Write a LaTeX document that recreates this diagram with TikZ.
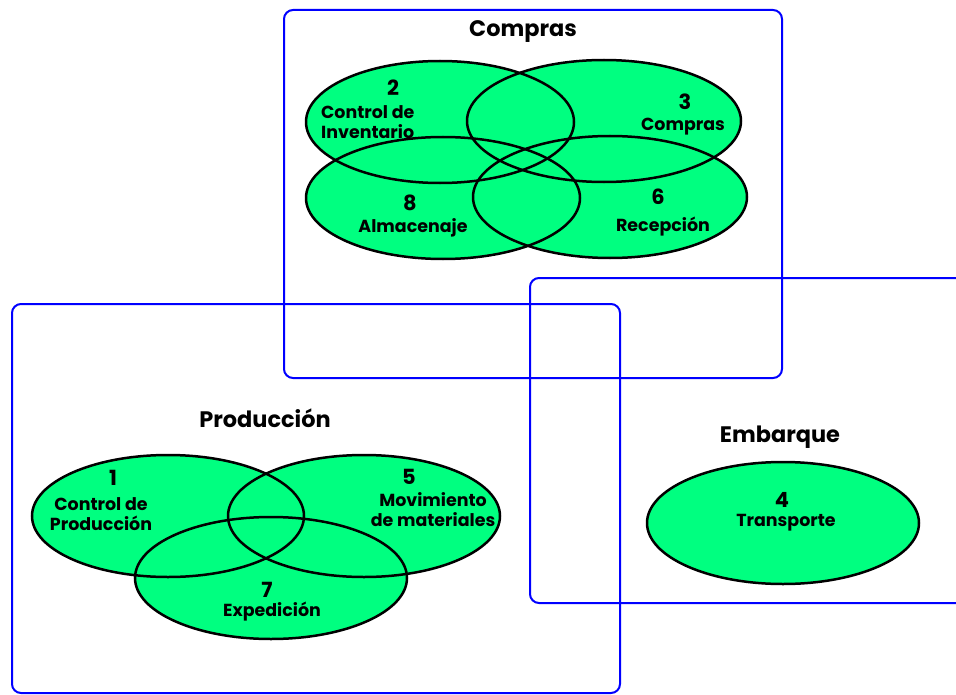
\documentclass[tikz,border=0pt]{standalone}
\usepackage{fontspec}
\setmainfont{Poppins}
\definecolor{verde}{RGB}{0,255,128}
\definecolor{azul}{RGB}{0,0,255}
\begin{document}
\begin{tikzpicture}[x=1bp,y=-1bp,
    grupo/.style={draw=azul,line width=2bp,rounded corners=9bp},
    titulo/.style={font=\fontsize{22.5}{24}\selectfont\bfseries},
    num/.style={font=\fontsize{21}{22}\selectfont\bfseries,inner sep=0pt},
    txt/.style={font=\fontsize{17.5}{20}\selectfont\bfseries,inner sep=0pt,align=center}]
                \clip (0,0) rectangle (956,695);
                % recuadros
                \draw[grupo] (284,10) rectangle (782,378);
                \draw[grupo] (12,304) rectangle (620,693);
                \draw[grupo] (530,278) rectangle (990,603);
                % areas
                \foreach \c/\rx in {{(440,122)}/134,{(604,121)}/137,{(443,198)}/137,{(610,197)}/137,
                    {(168,516)}/136,{(364,516)}/136,{(271,578)}/136,{(783,523)}/136}
                    \fill[verde] \c ellipse [x radius=\rx, y radius=61];
                \foreach \c/\rx in {{(440,122)}/134,{(604,121)}/137,{(443,198)}/137,{(610,197)}/137,
                    {(168,516)}/136,{(364,516)}/136,{(271,578)}/136,{(783,523)}/136}
                    \draw[line width=2.5bp] \c ellipse [x radius=\rx, y radius=61];
                % titulos
                \node[titulo] (tCompras) at (523,32) {Compras};
                \node[titulo] (tProduccion) at (265,418) {Producción};
                \node[titulo] (tEmbarque) at (780,437) {Embarque};
                % compras
                \node[num] (n2) at (393,88) {2};
                \node[txt,align=left,anchor=west] (l2) at (321,122) {Control de\\Inventario};
                \node[num] (n3) at (685,102) {3};
                \node[txt] (l3) at (683,127) {Compras};
                \node[num] (n8) at (410,203) {8};
                \node[txt] (l8) at (413,228) {Almacenaje};
                \node[num] (n6) at (658,197) {6};
                \node[txt] (l6) at (663,227) {Recepción};
                % produccion
                \node[num] (n1) at (113,478) {1};
                \node[txt] (l1) at (101,514) {Control de\\Producción};
                \node[num] (n5) at (409,477) {5};
                \node[txt] (l5) at (433,510) {Movimiento\\de materiales};
                \node[num] (n7) at (267,590) {7};
                \node[txt] (l7) at (272,612) {Expedición};
                % embarque
                \node[num] (n4) at (782,500) {4};
                \node[txt] (l4) at (786,523) {Transporte};
\end{tikzpicture}
\end{document}
